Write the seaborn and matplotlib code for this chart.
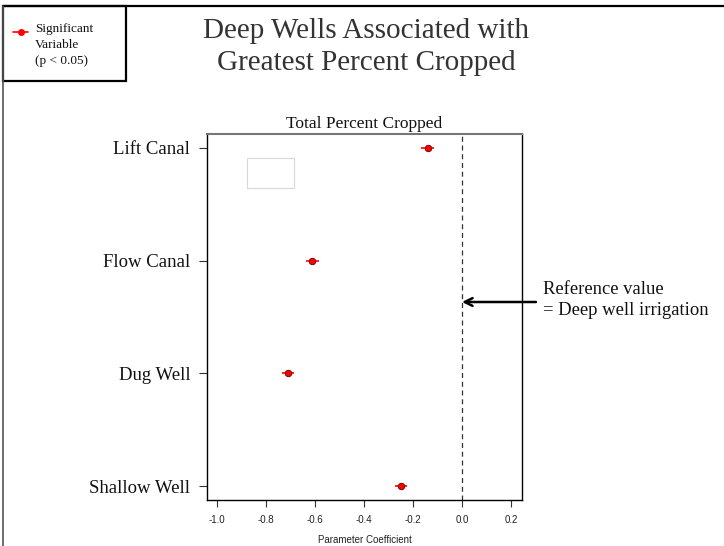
import matplotlib
matplotlib.use("Agg")
import matplotlib.pyplot as plt
import seaborn as sns
import pandas as pd
from matplotlib.patches import Rectangle
from matplotlib.lines import Line2D

categories = ["Lift Canal", "Flow Canal", "Dug Well", "Shallow Well"]
coefficients = [-0.14, -0.61, -0.71, -0.25]
ci_half_width = [0.025, 0.025, 0.025, 0.025]
x_ticks = [-1.0, -0.8, -0.6, -0.4, -0.2, 0.0, 0.2]

df = pd.DataFrame({"category": categories, "coef": coefficients, "err": ci_half_width})

sns.set_theme(style="white")
plt.rcParams["font.family"] = ["Liberation Serif", "DejaVu Serif"]

W, H = 724, 546
fig = plt.figure(figsize=(W / 100, H / 100), dpi=100)
fig.patch.set_facecolor("white")

def fx(px):
    return px / W

def fy(py):
    return 1 - py / H

ax = fig.add_axes([fx(207), fy(500), fx(522) - fx(207), fy(134) - fy(500)])

ax.errorbar(df["coef"], df["category"], xerr=df["err"], fmt="none",
            ecolor="red", elinewidth=1.2, capsize=0, zorder=2)
sns.scatterplot(data=df, x="coef", y="category", ax=ax, color="red",
                edgecolor="#600000", linewidth=0.6, s=22, zorder=3, legend=False)

ax.axvline(0.0, color="#333333", linestyle=(0, (4, 3)), linewidth=0.9, zorder=1)

ax.set_xlim(-1.04, 0.245)
ax.set_ylim(3.124, -0.124)
ax.set_xticks(x_ticks)
ax.set_xticklabels([f"{t:.1f}" for t in x_ticks], fontfamily="Liberation Sans",
                   fontsize=7, color="#222222")
ax.set_yticks(range(len(categories)))
ax.set_yticklabels(categories, fontsize=13.5, color="#111111")
ax.tick_params(axis="x", direction="out", length=5, width=0.8, color="#333333", pad=6,
               bottom=True)
ax.tick_params(axis="y", direction="out", length=6, width=0.8, color="#333333", pad=6,
               left=True)
ax.set_xlabel("Parameter Coefficient", fontfamily="Liberation Sans", fontsize=7,
              color="#222222", labelpad=7)
ax.set_ylabel("")
ax.set_title("Total Percent Cropped", fontsize=12.5, color="#111111", pad=4)

for side in ["left", "bottom", "right"]:
    ax.spines[side].set_color("black")
    ax.spines[side].set_linewidth(1.0)
ax.spines["top"].set_color("#777777")
ax.spines["top"].set_linewidth(1.5)

# empty light-gray box inside the plot
ax.add_patch(Rectangle((0.127, 0.853), 0.149, 0.082, transform=ax.transAxes,
                       fill=False, edgecolor="#d8d8d8", linewidth=0.8))

# figure frame lines
fig.add_artist(Line2D([fx(3), 1.0], [fy(6), fy(6)], color="black", linewidth=1.6))
fig.add_artist(Line2D([fx(3), fx(3)], [fy(6), 0.0], color="#555555", linewidth=1.2))

# legend box
fig.add_artist(Rectangle((fx(3), fy(81)), fx(126) - fx(3), fy(6) - fy(81),
                         fill=True, facecolor="white", edgecolor="black", linewidth=1.6))
fig.add_artist(Line2D([fx(13), fx(28)], [fy(32), fy(32)], color="red", linewidth=1.2))
fig.add_artist(Line2D([fx(20.5)], [fy(32)], color="red", marker="o", markersize=4,
                      markeredgecolor="red"))
fig.text(fx(35), fy(45), "Significant\nVariable\n(p < 0.05)", fontsize=9.5,
         va="center", ha="left", color="#111111", linespacing=1.45)

# main title
fig.text(fx(366), fy(47), "Deep Wells Associated with\nGreatest Percent Cropped",
         fontsize=21, ha="center", va="center", color="#333333", linespacing=1.25)

# reference arrow and note
ax.annotate("", xy=(fx(462), fy(302)), xycoords="figure fraction",
            xytext=(fx(536), fy(302)), textcoords="figure fraction",
            arrowprops=dict(arrowstyle="->", color="black", lw=1.8,
                            mutation_scale=14, shrinkA=0, shrinkB=0),
            annotation_clip=False)
fig.text(fx(543), fy(300), "Reference value\n= Deep well irrigation", fontsize=13.4,
         ha="left", va="center", color="#111111", linespacing=1.3)

fig.savefig("out.png", dpi=100, facecolor="white")
